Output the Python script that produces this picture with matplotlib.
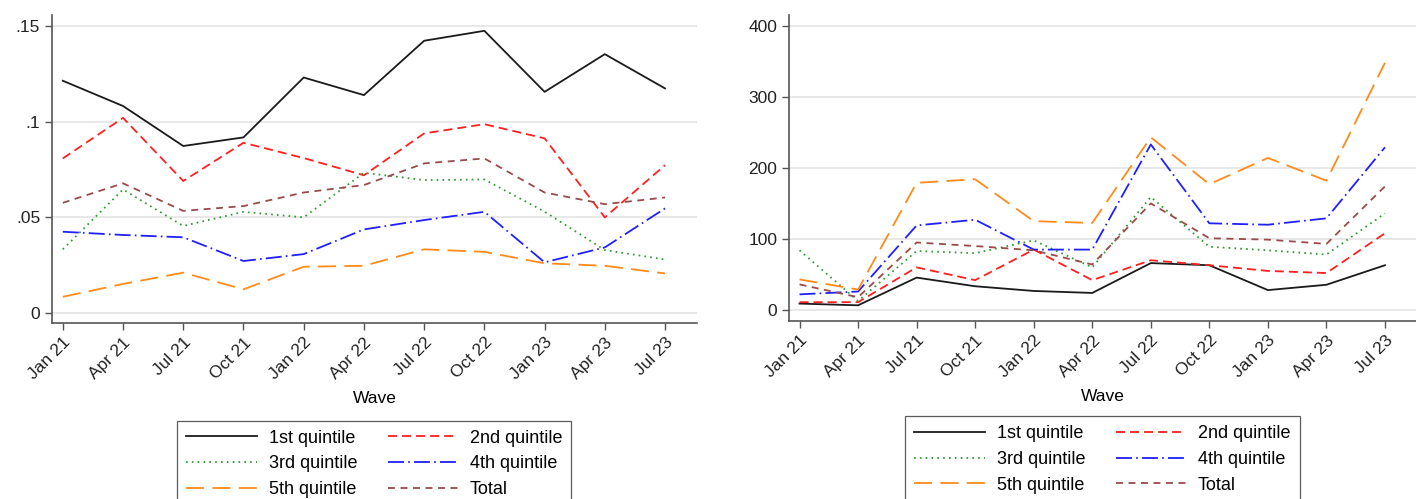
import numpy as np
import matplotlib
matplotlib.use("Agg")
from matplotlib import pyplot as plt

plt.rcParams['font.family'] = ['Liberation Sans', 'DejaVu Sans']
plt.rcParams['lines.scale_dashes'] = False

waves = ["Jan 21", "Apr 21", "Jul 21", "Oct 21", "Jan 22", "Apr 22",
         "Jul 22", "Oct 22", "Jan 23", "Apr 23", "Jul 23"]
series_names = ["1st quintile", "2nd quintile", "3rd quintile",
                "4th quintile", "5th quintile", "Total"]

# left panel (share)
left_q1 = [0.1214, 0.1082, 0.0873, 0.0918, 0.1231, 0.1139, 0.1423, 0.1475, 0.1156, 0.1353, 0.1174]
left_q2 = [0.0808, 0.1020, 0.0690, 0.0890, 0.0810, 0.0720, 0.0939, 0.0987, 0.0913, 0.0500, 0.0773]
left_q3 = [0.0333, 0.0646, 0.0455, 0.0529, 0.0500, 0.0733, 0.0695, 0.0698, 0.0530, 0.0329, 0.0280]
left_q4 = [0.0425, 0.0408, 0.0396, 0.0272, 0.0308, 0.0437, 0.0486, 0.0529, 0.0265, 0.0343, 0.0547]
left_q5 = [0.0085, 0.0152, 0.0211, 0.0124, 0.0242, 0.0247, 0.0333, 0.0320, 0.0260, 0.0247, 0.0207]
left_tot = [0.0576, 0.0678, 0.0534, 0.0559, 0.0630, 0.0669, 0.0782, 0.0808, 0.0630, 0.0569, 0.0604]

# right panel (amount)
right_q1 = [9, 6.6, 45.6, 33.4, 26.8, 24, 66, 63, 28, 35.5, 63]
right_q2 = [11, 11, 60, 42, 85, 42, 70, 63, 55, 52, 108]
right_q3 = [84, 12.7, 83, 80, 98, 60, 159, 89, 84, 78, 136]
right_q4 = [22, 26, 119, 127, 85, 85, 233, 122, 120, 129, 229]
right_q5 = [43, 28.7, 179, 184, 125, 122.5, 243, 177, 214, 182, 348]
right_tot = [36, 18, 95, 90, 84, 64, 150, 101, 99, 93, 174]

left_yticks = [0, 0.05, 0.1, 0.15]
left_ylabels = ["0", ".05", ".1", ".15"]
right_yticks = [0, 100, 200, 300, 400]
right_ylabels = ["0", "100", "200", "300", "400"]

colors = ["#1a1a1a", "#ff1f1f", "#2e9a2e", "#1f1fff", "#ff8a1a", "#9a4a4a"]
dashes = [None, (6.5, 3.6), (1.2, 3.0), (11.5, 3.0, 1.2, 3.0), (13, 6), (5, 4)]

fig = plt.figure(figsize=(14.16, 4.99), dpi=100)
ax1 = fig.add_axes([0.0367, 0.3527, 0.4555, 0.617])
ax2 = fig.add_axes([0.5572, 0.3567, 0.4428, 0.613])

panels = [
    (ax1, [left_q1, left_q2, left_q3, left_q4, left_q5, left_tot],
     left_yticks, left_ylabels, (-0.0052, 0.1557), 0.157),
    (ax2, [right_q1, right_q2, right_q3, right_q4, right_q5, right_tot],
     right_yticks, right_ylabels, (-15.5, 415), 0.166),
]

x = np.arange(len(waves))
for ax, data, yt, yl, ylim, leg_top in panels:
    handles = []
    for vals, name, c, d in zip(data, series_names, colors, dashes):
        if d is None:
            h, = ax.plot(x, vals, color=c, lw=1.3, label=name)
        else:
            h, = ax.plot(x, vals, color=c, lw=1.3, label=name, dashes=d)
        handles.append(h)
    ax.set_xlim(-0.18, 10.53)
    ax.set_ylim(*ylim)
    ax.set_yticks(yt)
    ax.set_yticklabels(yl)
    ax.set_xticks(x)
    ax.set_xticklabels(waves, rotation=45, ha='right', rotation_mode='anchor')
    ax.grid(axis='y', color='#e6e6e6', lw=1.3)
    ax.set_axisbelow(True)
    for s in ['top', 'right']:
        ax.spines[s].set_visible(False)
    for s in ['left', 'bottom']:
        ax.spines[s].set_color('#555555')
        ax.spines[s].set_linewidth(1.2)
    ax.tick_params(labelsize=12.5, colors='#222222', length=5, width=1, direction='out')
    ax.tick_params(axis='both', color='#555555')
    ax.set_xlabel("Wave", fontsize=12.5, labelpad=6)

    pos = ax.get_position()
    order = [0, 2, 4, 1, 3, 5]
    leg = fig.legend([handles[i] for i in order], [series_names[i] for i in order],
                     ncol=2, loc='upper center',
                     bbox_to_anchor=(pos.x0 + pos.width / 2, leg_top),
                     borderaxespad=0,
                     fontsize=13, frameon=True, fancybox=False,
                     edgecolor='#333333', handlelength=3.9, columnspacing=1.7,
                     labelspacing=0.48, borderpad=0.5, handletextpad=0.65)
    leg.get_frame().set_linewidth(0.9)

fig.savefig("out.png", dpi=100)
